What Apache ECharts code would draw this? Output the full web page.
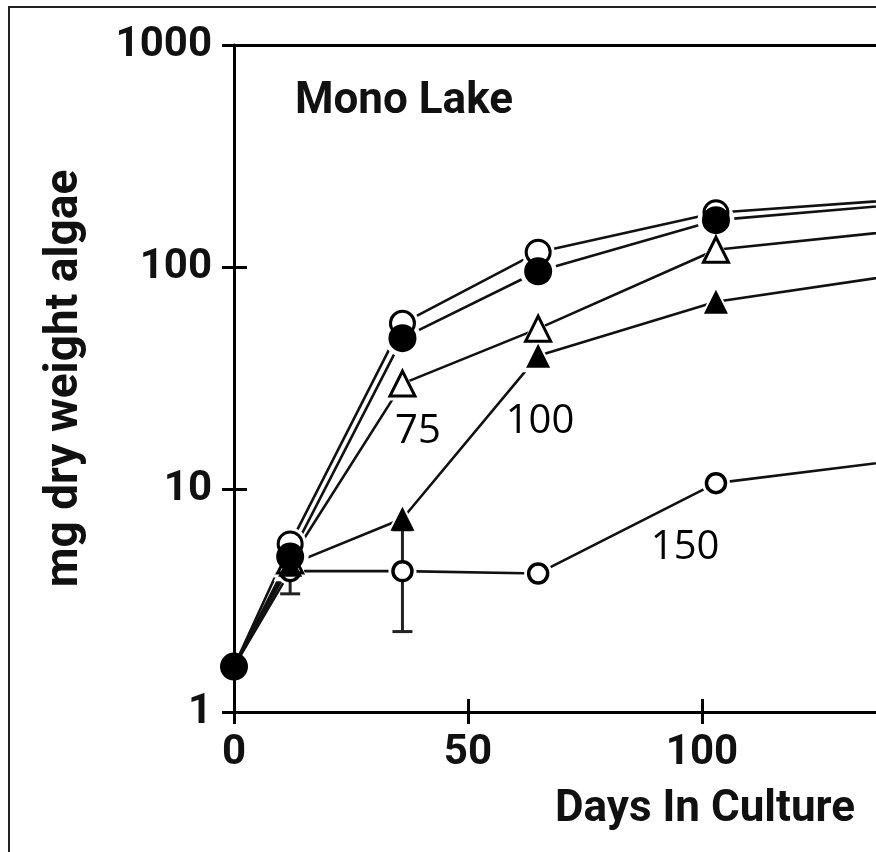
<!DOCTYPE html>
<html>
<head>
<meta charset="utf-8">
<script src="https://cdn.jsdelivr.net/npm/echarts@6/dist/echarts.min.js"></script>
<style>
  html, body { margin: 0; padding: 0; background: #fff; }
  #chart { width: 876px; height: 852px; }
</style>
</head>
<body>
<div id="chart"></div>
<script>
// Algal growth (mg dry weight) over days in culture, one series per treatment
const days = [0, 12, 36, 65, 103, 150];
const openCircle = [1.6, 5.7, 56, 117, 176, 207];
const filledCircle = [1.6, 5.0, 48, 96, 163, 198];
const openTriangle = [1.6, 4.8, 30, 53, 120, 152];
const filledTriangle = [1.6, 4.6, 7.4, 40, 70, 98];
const openSmall = [1.6, 4.3, 4.3, 4.2, 10.7, 14.2];

// error bars of the 150 series
const errDays = [12, 36];
const errLow = [3.4, 2.3];
const errHigh = [5.2, 6.6];

// axis ticks; the day axis runs past the right edge of the panel
const xTicks = [0, 50, 100];
const xVisibleMax = 137.2;
const yTicks = [1, 10, 100, 1000];

// treatment labels written next to the curves
const noteText = ['75', '100', '150'];
const noteDay = [39.3, 65.4, 96.4];
const noteValue = [18.2, 20.2, 5.46];

const FONT = 'Roboto';
const INK = '#111';
const LINE = '#111';

const pairs = ys => days.map((d, i) => [d, ys[i]]);

// all treatments start from the same inoculum; only the filled circle marks it
const treatments = [
  { name: '150', ys: openSmall, symbol: 'circle', size: 19, fill: '#fff', border: 3.5, markStart: false },
  { name: '75', ys: openTriangle, symbol: 'triangle', size: 25, fill: '#fff', border: 3, markStart: false },
  { name: '100', ys: filledTriangle, symbol: 'triangle', size: 24, fill: '#000', border: 0, markStart: false },
  { name: 'open circles', ys: openCircle, symbol: 'circle', size: 24, fill: '#fff', border: 3, markStart: false },
  { name: 'filled circles', ys: filledCircle, symbol: 'circle', size: 28, fill: '#000', border: 0, markStart: true }
];

const series = [];

// connecting lines
treatments.forEach(t => {
  series.push({
    type: 'line', name: t.name, data: pairs(t.ys), showSymbol: false, clip: true,
    lineStyle: { color: LINE, width: 2.6 }, z: 2, silent: true
  });
});

// white halos leave a small gap where lines meet the markers
treatments.forEach(t => {
  series.push({
    type: 'scatter', data: pairs(t.ys).filter(p => p[0] > 0), clip: true,
    symbol: t.symbol, symbolSize: t.size + 9,
    itemStyle: { color: '#fff', opacity: 1 }, z: 3, silent: true
  });
});

// error bars
series.push({
  type: 'custom', z: 4, silent: true,
  data: errDays.map((d, i) => [d, errLow[i], errHigh[i]]),
  encode: { x: 0, y: [1, 2] },
  renderItem(params, api) {
    const lo = api.coord([api.value(0), api.value(1)]);
    const hi = api.coord([api.value(0), api.value(2)]);
    const half = 10;
    const st = { stroke: '#222', lineWidth: 3 };
    return {
      type: 'group', children: [
        { type: 'line', shape: { x1: lo[0], y1: lo[1], x2: hi[0], y2: hi[1] }, style: st },
        { type: 'line', shape: { x1: lo[0] - half, y1: lo[1], x2: lo[0] + half, y2: lo[1] }, style: st },
        { type: 'line', shape: { x1: hi[0] - half, y1: hi[1], x2: hi[0] + half, y2: hi[1] }, style: st }
      ]
    };
  }
});

// markers
treatments.forEach((t, k) => {
  series.push({
    type: 'scatter', clip: true, silent: true, z: 5 + k,
    data: pairs(t.ys).filter(p => t.markStart || p[0] > 0),
    symbol: t.symbol, symbolSize: t.size,
    itemStyle: { color: t.fill, borderColor: '#000', borderWidth: t.border, opacity: 1 }
  });
});

// treatment labels
series.push({
  type: 'scatter', z: 20, silent: true,
  data: noteText.map((s, i) => ({ value: [noteDay[i], noteValue[i]], name: s })),
  symbolSize: 1, itemStyle: { color: 'rgba(0,0,0,0)', opacity: 1 },
  label: {
    show: true, position: 'inside', formatter: p => p.name,
    fontFamily: '"Open Sans"', fontSize: 40, color: '#000', opacity: 1
  }
});

const axisFontStyle = { fontFamily: FONT, fontWeight: 'bold', fontSize: 42, color: INK };

const option = {
  animation: false,
  backgroundColor: '#fff',
  grid: { left: 234, top: 45, bottom: 140, right: 0 },
  title: [
    { text: 'Mono Lake', left: 290, top: 75, padding: 5,
      textStyle: { fontFamily: FONT, fontWeight: 'bold', fontSize: 44, color: INK } },
    { text: 'Days In Culture', right: 16, top: 783, padding: 5,
      textStyle: { fontFamily: FONT, fontWeight: 'bold', fontSize: 44, color: INK } }
  ],
  xAxis: [
    {
      type: 'value', min: 0, max: xVisibleMax, position: 'bottom',
      axisLine: { show: true, lineStyle: { color: '#000', width: 3 } },
      axisTick: { show: true, length: 12, lineStyle: { color: '#000', width: 3 }, customValues: xTicks },
      axisLabel: Object.assign({ margin: 20, customValues: xTicks, formatter: v => String(v) }, axisFontStyle),
      splitLine: { show: false }
    },
    {
      type: 'value', min: 0, max: xVisibleMax, position: 'bottom',
      axisLine: { show: false },
      axisTick: { show: true, inside: true, length: 13, lineStyle: { color: '#000', width: 3 }, customValues: xTicks },
      axisLabel: { show: false }, splitLine: { show: false }
    },
    {
      type: 'value', min: 0, max: xVisibleMax, position: 'top',
      axisLine: { show: true, lineStyle: { color: '#000', width: 3 } },
      axisTick: { show: false }, axisLabel: { show: false }, splitLine: { show: false }
    }
  ],
  yAxis: [
    {
      type: 'log', logBase: 10, min: 1, max: 1000, position: 'left',
      axisLine: { show: true, lineStyle: { color: '#000', width: 3 } },
      axisTick: { show: true, length: 12, lineStyle: { color: '#000', width: 3 }, customValues: yTicks },
      axisLabel: Object.assign({ margin: 22, customValues: yTicks, formatter: v => String(v) }, axisFontStyle),
      minorTick: { show: false }, splitLine: { show: false },
      name: 'mg dry weight algae', nameLocation: 'middle', nameRotate: 90, nameGap: 146,
      nameTextStyle: { fontFamily: FONT, fontWeight: 'bold', fontSize: 46, color: INK }
    },
    {
      type: 'log', logBase: 10, min: 1, max: 1000, position: 'left',
      axisLine: { show: false },
      axisTick: { show: true, inside: true, length: 13, lineStyle: { color: '#000', width: 3 }, customValues: yTicks },
      axisLabel: { show: false }, splitLine: { show: false }
    }
  ],
  graphic: [
    { type: 'polyline', silent: true, z: 100,
      shape: { points: [[9, 852], [9, 7], [876, 7]] },
      style: { stroke: '#222', lineWidth: 2, fill: null } }
  ],
  series: series
};

const chart = echarts.init(document.getElementById('chart'), null, { renderer: 'canvas' });
chart.setOption(option);
</script>
</body>
</html>
